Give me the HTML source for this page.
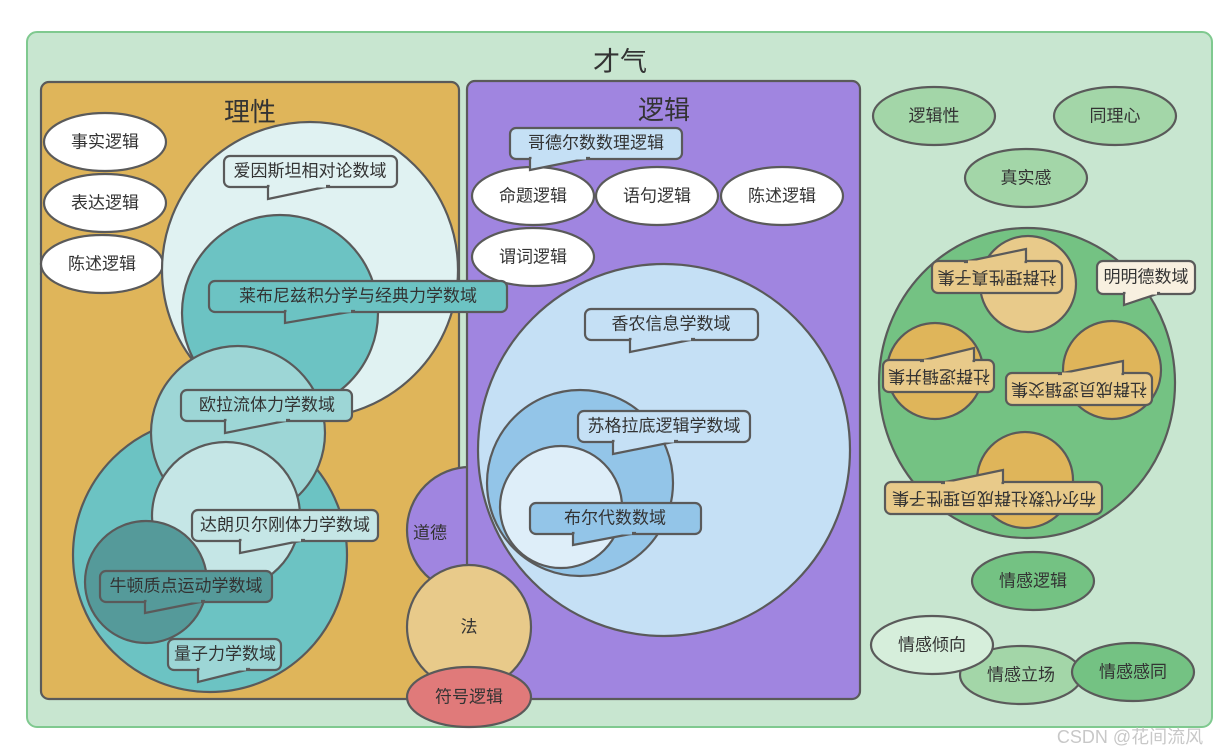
<!DOCTYPE html>
<html><head><meta charset="utf-8"><style>
html,body{margin:0;padding:0;background:#fff;}
svg{display:block;font-family:"Liberation Sans","Noto Sans CJK SC",sans-serif;}
text{fill:#333;text-anchor:middle;dominant-baseline:central;font-size:17px;}
.s{stroke:#5a5a5a;stroke-width:2.2;}
</style></head><body>
<svg width="1230" height="756" viewBox="0 0 1230 756">
<rect x="27" y="32" width="1185" height="695" rx="10" fill="#c8e6d0" stroke="#7fc98f" stroke-width="2"/>
<text x="620" y="62" style="font-size:27px">才气</text>

<!-- 理性 -->
<rect x="41" y="82" width="418" height="617" rx="8" fill="#dfb55a" class="s"/>
<text x="250" y="112" style="font-size:26px">理性</text>
<ellipse cx="105" cy="142" rx="61" ry="29" fill="#fff" class="s"/><text x="105" y="142">事实逻辑</text>
<ellipse cx="105" cy="203" rx="61" ry="29" fill="#fff" class="s"/><text x="105" y="203">表达逻辑</text>
<ellipse cx="102" cy="264" rx="61" ry="29" fill="#fff" class="s"/><text x="102" y="264">陈述逻辑</text>

<circle cx="310" cy="270" r="148" fill="#e0f2f2" class="s"/>
<circle cx="280" cy="313" r="98" fill="#6cc3c3" class="s"/>
<circle cx="210" cy="555" r="137" fill="#6cc3c3" class="s"/>
<circle cx="238" cy="433" r="87" fill="#9dd6d6" class="s"/>
<circle cx="226" cy="516" r="74" fill="#c5e6e6" class="s"/>
<circle cx="146" cy="582" r="61" fill="#559a9a" class="s"/>

<!-- 道德 (behind logic rect) -->
<circle cx="470" cy="530" r="63" fill="#a085e0" class="s"/>
<text x="430" y="533">道德</text>

<!-- 逻辑 -->
<rect x="467" y="81" width="393" height="618" rx="8" fill="#a085e0" class="s"/>
<text x="664" y="110" style="font-size:26px">逻辑</text>
<ellipse cx="533" cy="196" rx="61" ry="29" fill="#fff" class="s"/><text x="533" y="196">命题逻辑</text>
<ellipse cx="657" cy="196" rx="61" ry="29" fill="#fff" class="s"/><text x="657" y="196">语句逻辑</text>
<ellipse cx="782" cy="196" rx="61" ry="29" fill="#fff" class="s"/><text x="782" y="196">陈述逻辑</text>
<ellipse cx="533" cy="257" rx="61" ry="29" fill="#fff" class="s"/><text x="533" y="257">谓词逻辑</text>
<circle cx="664" cy="450" r="186" fill="#c5e0f5" class="s"/>
<circle cx="580" cy="483" r="93" fill="#93c5e8" class="s"/>
<circle cx="561" cy="507" r="61" fill="#deeef9" class="s"/>

<!-- 法 / 符号逻辑 -->
<circle cx="469" cy="627" r="62" fill="#e8ca8a" class="s"/>
<text x="469" y="627">法</text>
<ellipse cx="469" cy="697" rx="62" ry="30" fill="#e07a7a" class="s"/>
<text x="469" y="697">符号逻辑</text>

<!-- callouts -->
<g>
<rect x="224" y="156" width="173" height="31" rx="6" fill="#e0f2f2" class="s"/>
<polygon points="268,186 268,199 330,186" fill="#e0f2f2" class="s"/><line x1="269.5" y1="186" x2="326" y2="186" stroke="#e0f2f2" stroke-width="3"/>
<text x="310" y="171">爱因斯坦相对论数域</text>

<rect x="209" y="281" width="298" height="31" rx="6" fill="#6cc3c3" class="s"/>
<polygon points="285,311 285,323 355,311" fill="#6cc3c3" class="s"/><line x1="286.5" y1="311" x2="351" y2="311" stroke="#6cc3c3" stroke-width="3"/>
<text x="358" y="296">莱布尼兹积分学与经典力学数域</text>

<rect x="181" y="390" width="171" height="31" rx="6" fill="#9dd6d6" class="s"/>
<polygon points="225,420 225,433 290,420" fill="#9dd6d6" class="s"/><line x1="226.5" y1="420" x2="286" y2="420" stroke="#9dd6d6" stroke-width="3"/>
<text x="267" y="405">欧拉流体力学数域</text>

<rect x="192" y="510" width="186" height="31" rx="6" fill="#c5e6e6" class="s"/>
<polygon points="240,540 240,553 305,540" fill="#c5e6e6" class="s"/><line x1="241.5" y1="540" x2="301" y2="540" stroke="#c5e6e6" stroke-width="3"/>
<text x="285" y="525">达朗贝尔刚体力学数域</text>

<rect x="100" y="571" width="172" height="31" rx="6" fill="#559a9a" class="s"/>
<polygon points="145,601 145,613 205,601" fill="#559a9a" class="s"/><line x1="146.5" y1="601" x2="201" y2="601" stroke="#559a9a" stroke-width="3"/>
<text x="186" y="586">牛顿质点运动学数域</text>

<rect x="168" y="639" width="113" height="31" rx="6" fill="#9dd6d6" class="s"/>
<polygon points="198,669 198,682 250,669" fill="#9dd6d6" class="s"/><line x1="199.5" y1="669" x2="246" y2="669" stroke="#9dd6d6" stroke-width="3"/>
<text x="225" y="654">量子力学数域</text>

<rect x="510" y="128" width="172" height="31" rx="6" fill="#c5e0f5" class="s"/>
<polygon points="530,158 530,170 590,158" fill="#c5e0f5" class="s"/><line x1="531.5" y1="158" x2="586" y2="158" stroke="#c5e0f5" stroke-width="3"/>
<text x="596" y="143">哥德尔数数理逻辑</text>

<rect x="585" y="309" width="173" height="31" rx="6" fill="#c5e0f5" class="s"/>
<polygon points="630,339 630,352 695,339" fill="#c5e0f5" class="s"/><line x1="631.5" y1="339" x2="691" y2="339" stroke="#c5e0f5" stroke-width="3"/>
<text x="671" y="324">香农信息学数域</text>

<rect x="578" y="411" width="172" height="31" rx="6" fill="#c5e0f5" class="s"/>
<polygon points="613,441 613,454 678,441" fill="#c5e0f5" class="s"/><line x1="614.5" y1="441" x2="674" y2="441" stroke="#c5e0f5" stroke-width="3"/>
<text x="664" y="426">苏格拉底逻辑学数域</text>

<rect x="530" y="503" width="171" height="31" rx="6" fill="#93c5e8" class="s"/>
<polygon points="573,533 573,545 636,533" fill="#93c5e8" class="s"/><line x1="574.5" y1="533" x2="632" y2="533" stroke="#93c5e8" stroke-width="3"/>
<text x="615" y="518">布尔代数数域</text>
</g>

<!-- right side -->
<ellipse cx="934" cy="116" rx="61" ry="29" fill="#a3d6a8" class="s"/><text x="934" y="116">逻辑性</text>
<ellipse cx="1115" cy="116" rx="61" ry="29" fill="#a3d6a8" class="s"/><text x="1115" y="116">同理心</text>
<ellipse cx="1026" cy="178" rx="61" ry="29" fill="#a3d6a8" class="s"/><text x="1026" y="178">真实感</text>

<ellipse cx="1027" cy="383" rx="148" ry="155" fill="#74c283" class="s"/>
<circle cx="1028" cy="284" r="48" fill="#e8ca8a" class="s"/>
<circle cx="935" cy="371" r="48" fill="#dfb55a" class="s"/>
<circle cx="1112" cy="370" r="49" fill="#dfb55a" class="s"/>
<circle cx="1025" cy="480" r="48" fill="#dfb55a" class="s"/>

<g transform="rotate(180 997 277)">
<rect x="932" y="261" width="130" height="32" rx="6" fill="#e8ca8a" class="s"/>
<polygon points="968,292 968,305 1030,292" fill="#e8ca8a" class="s"/><line x1="969.5" y1="292" x2="1026" y2="292" stroke="#e8ca8a" stroke-width="3"/>
<text x="997" y="277">社群理性真子集</text>
</g>
<g transform="rotate(180 939 376)">
<rect x="884" y="360" width="111" height="32" rx="6" fill="#e8ca8a" class="s"/>
<polygon points="904,391 904,404 958,391" fill="#e8ca8a" class="s"/><line x1="905.5" y1="391" x2="954" y2="391" stroke="#e8ca8a" stroke-width="3"/>
<text x="939" y="376">社群逻辑并集</text>
</g>
<g transform="rotate(180 1079 389)">
<rect x="1006" y="373" width="146" height="32" rx="6" fill="#e8ca8a" class="s"/>
<polygon points="1035,404 1035,417 1100,404" fill="#e8ca8a" class="s"/><line x1="1036.5" y1="404" x2="1096" y2="404" stroke="#e8ca8a" stroke-width="3"/>
<text x="1079" y="389">社群成员逻辑交集</text>
</g>
<g transform="rotate(180 994 498)">
<rect x="886" y="482" width="217" height="32" rx="6" fill="#e8ca8a" class="s"/>
<polygon points="985,513 985,526 1047,513" fill="#e8ca8a" class="s"/><line x1="986.5" y1="513" x2="1043" y2="513" stroke="#e8ca8a" stroke-width="3"/>
<text x="994" y="498">布尔代数社群成员理性子集</text>
</g>

<rect x="1097" y="261" width="98" height="33" rx="6" fill="#f8f0e0" class="s"/>
<polygon points="1124,293 1124,305 1160,293" fill="#f8f0e0" class="s"/><line x1="1125.5" y1="293" x2="1157" y2="293" stroke="#f8f0e0" stroke-width="3"/>
<text x="1146" y="277">明明德数域</text>

<ellipse cx="1033" cy="581" rx="61" ry="29" fill="#74c283" class="s"/><text x="1033" y="581">情感逻辑</text>
<ellipse cx="1021" cy="675" rx="61" ry="29" fill="#a3d6a8" class="s"/><text x="1021" y="675">情感立场</text>
<ellipse cx="932" cy="645" rx="61" ry="29" fill="#d6eedb" class="s"/><text x="932" y="645">情感倾向</text>
<ellipse cx="1133" cy="672" rx="61" ry="29" fill="#74c283" class="s"/><text x="1133" y="672">情感感同</text>

<text x="1130" y="737" style="font-size:18px;fill:#c8c8c8">CSDN @花间流风</text>
</svg>
</body></html>
